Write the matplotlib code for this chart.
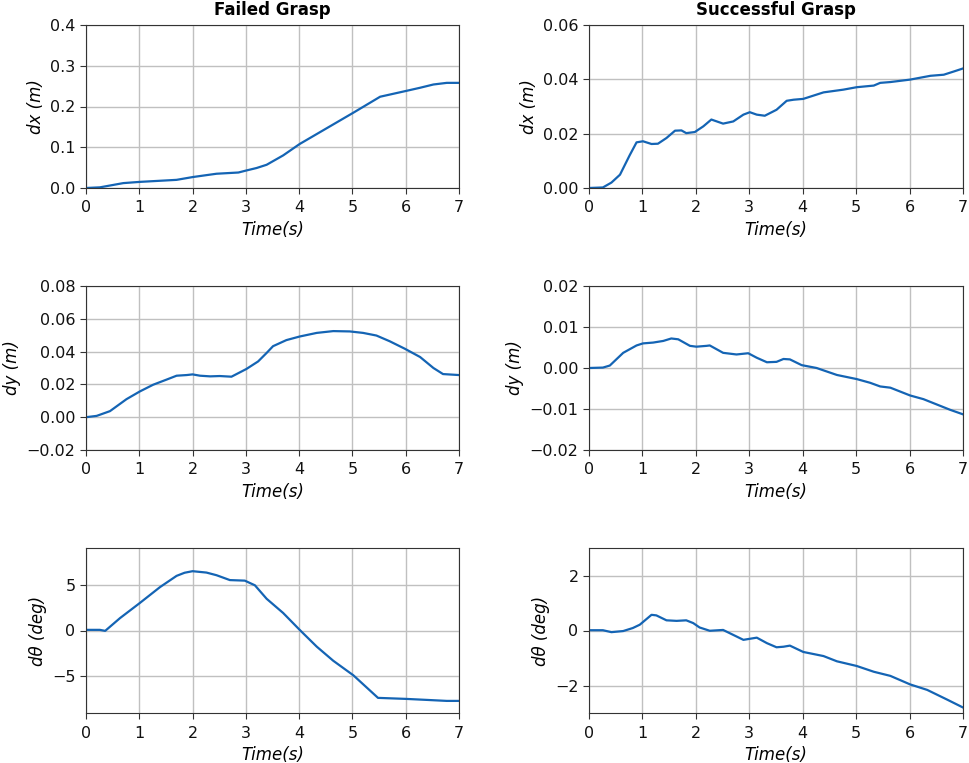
import matplotlib
matplotlib.use("Agg")
import matplotlib.pyplot as plt
import numpy as np

# ---------------- data ----------------
fail_dx_t = [0, 0.26, 0.7, 1.01, 1.7, 2.01, 2.45, 2.86, 3.01, 3.2, 3.39, 3.7, 4.01, 5.02, 5.52, 6.0, 6.27, 6.52, 6.77, 7.0]
fail_dx_v = [0, 0.0016, 0.012, 0.015, 0.020, 0.027, 0.035, 0.038, 0.043, 0.049, 0.057, 0.080, 0.108, 0.185, 0.224, 0.238, 0.246, 0.254, 0.258, 0.258]

succ_dx_t = [0, 0.26, 0.42, 0.58, 0.76, 0.89, 1.01, 1.17, 1.29, 1.45, 1.61, 1.73, 1.82, 1.98, 2.14, 2.29,
             2.51, 2.7, 2.89, 3.01, 3.14, 3.29, 3.51, 3.7, 3.83, 4.01, 4.2, 4.39, 4.76, 5.01, 5.33, 5.45,
             5.64, 6.01, 6.2, 6.39, 6.64, 6.83, 7.0]
succ_dx_v = [0, 0.0002, 0.002, 0.0049, 0.012, 0.0168, 0.0172, 0.0162, 0.0163, 0.0184, 0.0211, 0.0212, 0.0202,
             0.0206, 0.0227, 0.0252, 0.0237, 0.0245, 0.027, 0.0279, 0.027, 0.0266, 0.0288, 0.0321, 0.0325,
             0.0328, 0.034, 0.0352, 0.0362, 0.0371, 0.0377, 0.0387, 0.039, 0.0399, 0.0406, 0.0413, 0.0417,
             0.0429, 0.044]

fail_dy_t = [0, 0.2, 0.45, 0.76, 1.01, 1.26, 1.51, 1.7, 1.89, 2.0, 2.14, 2.33, 2.51, 2.73, 3.01, 3.23, 3.39,
             3.51, 3.76, 4.01, 4.33, 4.64, 4.95, 5.2, 5.45, 5.7, 5.98, 6.27, 6.52, 6.7, 7.0]
fail_dy_v = [0, 0.0008, 0.0037, 0.011, 0.0157, 0.0198, 0.0229, 0.0253, 0.0257, 0.0261, 0.0253, 0.0249, 0.0251,
             0.0247, 0.0294, 0.034, 0.0392, 0.0433, 0.047, 0.0492, 0.0514, 0.0525, 0.0523, 0.0514, 0.0498,
             0.0463, 0.0418, 0.0367, 0.030, 0.0263, 0.0257]

succ_dy_t = [0, 0.26, 0.39, 0.64, 0.89, 1.01, 1.2, 1.39, 1.54, 1.67, 1.89, 2.01, 2.2, 2.26, 2.51, 2.76, 2.98,
             3.14, 3.33, 3.51, 3.64, 3.76, 3.98, 4.26, 4.64, 5.01, 5.26, 5.45, 5.64, 6.01, 6.26, 6.51, 6.76, 7.0]
succ_dy_v = [0, 0.0001, 0.0006, 0.0037, 0.0055, 0.006, 0.0062, 0.0066, 0.0072, 0.007, 0.0054, 0.0052, 0.0054,
             0.0055, 0.0037, 0.0033, 0.0036, 0.0025, 0.0014, 0.0015, 0.0022, 0.0021, 0.0007, 0.0, -0.0017,
             -0.0027, -0.0036, -0.0045, -0.0048, -0.0067, -0.0076, -0.0089, -0.0102, -0.0113]

fail_dth_t = [0, 0.26, 0.36, 0.64, 1.01, 1.39, 1.7, 1.85, 2.0, 2.26, 2.45, 2.7, 2.98, 3.17, 3.39, 3.7, 4.01, 4.33,
              4.64, 5.02, 5.48, 6.0, 6.39, 6.77, 7.0]
fail_dth_v = [0.07, 0.07, -0.04, 1.36, 3.0, 4.74, 5.96, 6.3, 6.47, 6.32, 6.03, 5.5, 5.44, 4.93, 3.46, 1.91, 0.07,
              -1.76, -3.3, -4.9, -7.35, -7.46, -7.57, -7.68, -7.68]

succ_dth_t = [0, 0.26, 0.42, 0.64, 0.82, 0.95, 1.17, 1.26, 1.45, 1.64, 1.82, 1.95, 2.07, 2.26, 2.51, 2.7, 2.89,
              3.14, 3.33, 3.51, 3.64, 3.76, 4.01, 4.39, 4.64, 5.01, 5.33, 5.64, 6.01, 6.33, 6.7, 7.0]
succ_dth_v = [0.01, 0.01, -0.06, -0.02, 0.09, 0.21, 0.57, 0.55, 0.37, 0.35, 0.37, 0.27, 0.11, -0.01, 0.02,
              -0.16, -0.34, -0.26, -0.46, -0.61, -0.59, -0.55, -0.78, -0.93, -1.12, -1.29, -1.5, -1.65, -1.96,
              -2.16, -2.51, -2.8]

col_titles = ["Failed Grasp", "Successful Grasp"]
row_labels = ["dx (m)", "dy (m)", "dθ (deg)"]
xlabel = "Time(s)"
xticks = [0, 1, 2, 3, 4, 5, 6, 7]

# ---------------- figure ----------------
W, H = 969, 763
fig = plt.figure(figsize=(W / 100, H / 100), dpi=100)

lefts = [86, 589]
widths = [373, 374]
rows = [(25, 188), (286, 450), (548, 713)]

series = [
    [(fail_dx_t, fail_dx_v), (succ_dx_t, succ_dx_v)],
    [(fail_dy_t, fail_dy_v), (succ_dy_t, succ_dy_v)],
    [(fail_dth_t, fail_dth_v), (succ_dth_t, succ_dth_v)],
]
ylims = [[(0, 0.4), (0, 0.06)], [(-0.02, 0.08), (-0.02, 0.02)], [(-9, 9), (-3, 3)]]
yticks = [[[0.0, 0.1, 0.2, 0.3, 0.4], [0.0, 0.02, 0.04, 0.06]],
          [[-0.02, 0.0, 0.02, 0.04, 0.06, 0.08], [-0.02, -0.01, 0.0, 0.01, 0.02]],
          [[-5, 0, 5], [-2, 0, 2]]]
yfmt = [["{:.1f}", "{:.2f}"], ["{:.2f}", "{:.2f}"], ["{:.0f}", "{:.0f}"]]

line_color = "#1464b4"

for r, (top, bot) in enumerate(rows):
    for c in range(2):
        ax = fig.add_axes([lefts[c] / W, 1 - bot / H, widths[c] / W, (bot - top) / H])
        t, v = series[r][c]
        ax.plot(t, v, color=line_color, lw=1.6, solid_joinstyle="round")
        ax.set_xlim(0, 7)
        ax.set_ylim(*ylims[r][c])
        ax.set_xticks(xticks)
        ax.set_yticks(yticks[r][c])
        ax.set_yticklabels([yfmt[r][c].format(y).replace("-", "\u2212") for y in yticks[r][c]])
        ax.grid(True, color="#c0c0c0", lw=1.0)
        ax.set_axisbelow(True)
        ax.tick_params(labelsize=11.5, length=4, color="#333333", labelcolor="#111111")
        ax.tick_params(axis="x", pad=5)
        for s in ax.spines.values():
            s.set_color("#333333")
        ax.set_xlabel(xlabel, fontsize=12, style="italic", labelpad=4)
        ax.set_ylabel(row_labels[r], fontsize=12, style="italic")
        if r == 0:
            ax.set_title(col_titles[c], fontsize=12, fontweight="bold", pad=7)

fig.savefig("out.png", dpi=100)
